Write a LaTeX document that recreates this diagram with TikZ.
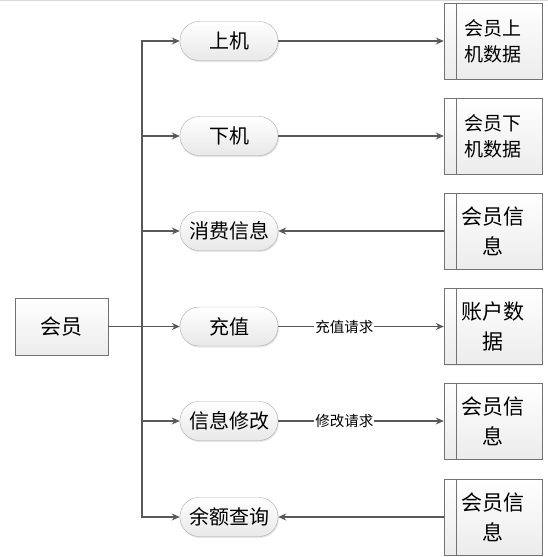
\documentclass[tikz,border=0pt]{standalone}
\usepackage{fontspec}
\setmainfont{Noto Sans CJK SC}
\usetikzlibrary{arrows.meta,shadows}
\tikzset{
  pill/.style={draw=gray!65, rounded corners=19pt, minimum width=98pt, minimum height=39pt, inner sep=0pt,
    top color=white, bottom color=gray!18, drop shadow={opacity=0.2, shadow xshift=1pt, shadow yshift=-1.5pt},
    font=\fontsize{20}{24}\selectfont},
  store/.style={draw=gray!90!black, minimum width=98pt, minimum height=76pt, inner sep=0pt, align=center,
    top color=white, bottom color=gray!15, drop shadow={opacity=0.15, shadow xshift=1pt, shadow yshift=-1pt}},
  flow/.style={draw=black!65, line width=1.4pt, -{Stealth[length=8pt,width=7pt]}},
  tag/.style={fill=white, inner sep=1pt, font=\fontsize{14.5}{16}\selectfont}
}
\begin{document}
\begin{tikzpicture}[x=1pt,y=-1pt]
    \useasboundingbox (0,0) rectangle (548,557);
    \draw[gray!30] (0,0.5) -- (548,0.5);
    \node[store, minimum width=93pt, minimum height=57pt, font=\fontsize{21}{25}\selectfont] (hy) at (61.5,326.5) {会员};
    \coordinate (fork) at (142,326.5);
    \foreach \n/\y/\t/\d/\s/\b in {1/41/上机/{会员上\\机数据}/19/26, 2/136/下机/{会员下\\机数据}/19/26, 3/231/消费信息/{会员信\\息}/21/30, 4/326.5/充值/{账户数\\据}/21/30, 5/421/信息修改/{会员信\\息}/21/30, 6/517/余额查询/{会员信\\息}/21/30} {
      \node[pill] (p\n) at (229,\y) {\t};
      \node[store, font=\fontsize{\s}{\b}\selectfont] (d\n) at (493,\y) {\d};
      \draw[gray!90!black] ([xshift=12pt]d\n.north west) -- ([xshift=12pt]d\n.south west);
      \draw[flow] (hy.east) -- (fork) |- (p\n.west);
    }
    \foreach \n in {1,2} \draw[flow] (p\n) -- (d\n);
    \foreach \n in {3,6} \draw[flow] (d\n) -- (p\n);
    \draw[flow] (p4) -- node[tag, pos=0.4] {充值请求} (d4);
    \draw[flow] (p5) -- node[tag, pos=0.4] {修改请求} (d5);
  \end{tikzpicture}
\end{document}
